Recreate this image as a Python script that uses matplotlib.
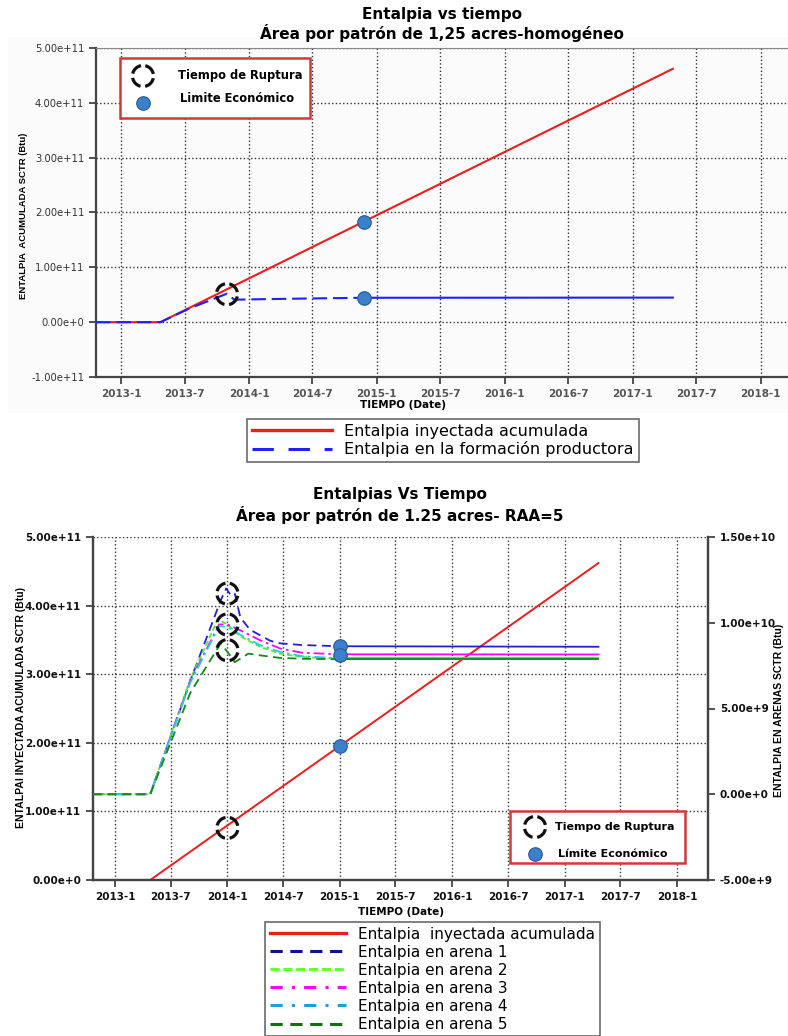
import matplotlib
matplotlib.use('Agg')
import matplotlib.pyplot as plt
import matplotlib.dates as mdates
from matplotlib.ticker import FuncFormatter, FixedLocator
from matplotlib.patches import Rectangle
from matplotlib.lines import Line2D
import pandas as pd

plt.rcParams['font.family'] = ['DejaVu Sans']
VFONT = ['Liberation Sans', 'DejaVu Sans']

# ---------------- data: top chart ----------------
top_title = ['Entalpia vs tiempo', 'Área por patrón de 1,25 acres-homogéneo']
top_ylabel = 'ENTALPIA  ACUMULADA SCTR (Btu)'
top_series_labels = ['Entalpia inyectada acumulada', 'Entalpia en la formación productora']
top_marker_labels = ['Tiempo de Ruptura', 'Limite Económico']

top_red_dates = ['2012-10-21', '2013-04-23', '2017-04-25']
top_red_vals = [0.0, 0.0, 4.62e11]
top_blue_dates = ['2012-10-21', '2013-04-23', '2013-07-15', '2013-10-30', '2013-11-20',
                  '2014-01-01', '2014-06-01', '2014-11-26']
top_blue_vals = [0.0, 0.0, 0.25e11, 0.52e11, 0.41e11, 0.415e11, 0.43e11, 0.445e11]
top_blue_tail_dates = ['2014-11-26', '2017-04-25']
top_blue_tail_vals = [0.445e11, 0.448e11]
top_break_dates = ['2013-10-30']
top_break_vals = [0.51e11]
top_limit_dates = ['2014-11-26', '2014-11-26']
top_limit_vals = [1.82e11, 0.445e11]
top_yticks = [-1e11, 0, 1e11, 2e11, 3e11, 4e11, 5e11]

# ---------------- data: bottom chart ----------------
bot_title = ['Entalpias Vs Tiempo', 'Área por patrón de 1.25 acres- RAA=5']
bot_ylabel_left = 'ENTALPAI INYECTADA ACUMULADA SCTR (Btu)'
bot_ylabel_right = 'ENTALPIA EN ARENAS SCTR (Btu)'
bot_series_labels = ['Entalpia  inyectada acumulada', 'Entalpia en arena 1', 'Entalpia en arena 2',
                     'Entalpia en arena 3', 'Entalpia en arena 4', 'Entalpia en arena 5']
bot_marker_labels = ['Tiempo de Ruptura', 'Límite Económico']

bot_red_dates = ['2012-10-21', '2013-04-25', '2017-04-21']
bot_red_vals = [0.0, 0.0, 4.62e11]

ar1_dates = ['2012-10-21', '2013-04-25', '2013-09-02', '2013-12-10', '2013-12-28', '2014-01-12',
             '2014-01-25', '2014-02-12', '2014-03-15', '2014-04-17', '2014-05-20', '2014-06-21',
             '2014-09-01', '2015-01-01']
ar1_vals = [0, 0, 6.6e9, 11.3e9, 12.0e9, 11.6e9, 11.7e9, 10.3e9, 9.6e9, 9.27e9, 8.95e9, 8.8e9,
            8.7e9, 8.63e9]
ar2_dates = ['2012-10-21', '2013-04-25', '2013-09-02', '2013-12-01', '2014-01-01', '2014-02-12',
             '2014-04-17', '2014-06-21', '2014-09-01', '2015-01-01']
ar2_vals = [0, 0, 6.7e9, 10.2e9, 9.9e9, 9.2e9, 8.6e9, 8.2e9, 8.0e9, 7.9e9]
ar3_dates = ['2012-10-21', '2013-04-25', '2013-09-02', '2013-12-05', '2014-01-01', '2014-02-12',
             '2014-04-17', '2014-06-21', '2014-09-01', '2015-01-01']
ar3_vals = [0, 0, 6.6e9, 9.9e9, 9.9e9, 9.56e9, 8.98e9, 8.5e9, 8.25e9, 8.16e9]
ar4_dates = ['2012-10-21', '2013-04-25', '2013-09-02', '2013-12-05', '2014-01-01', '2014-02-12',
             '2014-04-17', '2014-06-21', '2014-09-01', '2015-01-01']
ar4_vals = [0, 0, 6.5e9, 9.8e9, 9.75e9, 9.3e9, 8.7e9, 8.3e9, 8.05e9, 7.93e9]
ar5_dates = ['2012-10-21', '2013-04-25', '2013-09-02', '2013-12-10', '2014-01-01', '2014-01-25',
             '2014-03-10', '2014-04-17', '2014-06-21', '2014-09-01', '2015-01-01']
ar5_vals = [0, 0, 5.9e9, 8.8e9, 8.3e9, 7.7e9, 8.2e9, 8.1e9, 7.95e9, 7.9e9, 7.87e9]

tail_dates = ['2015-01-01', '2017-04-21']
ar1_tail = [8.63e9, 8.60e9]
ar2_tail = [7.90e9, 7.90e9]
ar3_tail = [8.16e9, 8.15e9]
ar4_tail = [7.93e9, 7.93e9]
ar5_tail = [7.87e9, 7.87e9]

bot_break_dates_right = ['2014-01-01', '2014-01-01', '2014-01-01']
bot_break_vals_right = [11.7e9, 9.9e9, 8.4e9]
bot_break_dates_left = ['2014-01-01']
bot_break_vals_left = [0.76e11]
bot_limit_dates_right = ['2015-01-01', '2015-01-01']
bot_limit_vals_right = [8.63e9, 8.1e9]
bot_limit_dates_left = ['2015-01-01']
bot_limit_vals_left = [1.95e11]

bot_yticks_left = [0, 1e11, 2e11, 3e11, 4e11, 5e11]
bot_yticks_right = [-5e9, 0, 5e9, 1e10, 1.5e10]

x_tick_dates = ['2013-01-01', '2013-07-01', '2014-01-01', '2014-07-01', '2015-01-01', '2015-07-01',
                '2016-01-01', '2016-07-01', '2017-01-01', '2017-07-01', '2018-01-01']
xlabel = 'TIEMPO (Date)'

# ---------------- helpers ----------------
D = pd.to_datetime


def sci_fmt(v, pos=None):
    s = f"{v:.2e}"
    mant, ex = s.split('e')
    e = int(ex)
    return f"{mant}e{'+' if e >= 0 else '-'}{abs(e)}"


def date_fmt(v, pos=None):
    d = mdates.num2date(v)
    return f"{d.year}-{d.month}"


RED = '#ee1c1c'
BREAK_KW = dict(s=230, facecolors='none', edgecolors='#111111', linewidths=2.3,
                linestyles=[(4.47, (3.8, 1.35))], zorder=8, clip_on=False)
BALL_KW = dict(s=95, color='#3b80c9', edgecolors='#23599a', linewidths=0.8, zorder=9, clip_on=False)
SPINE_C = '#444444'

fig = plt.figure(figsize=(7.88, 10.36), dpi=100)

# faint panel behind top chart
fig.patches.append(Rectangle((8 / 788, 1 - 413 / 1036), 780 / 788, 376 / 1036,
                             transform=fig.transFigure, facecolor='#fbfbfb', edgecolor='none',
                             zorder=-10))

# ================= TOP CHART =================
ax1 = fig.add_axes([96 / 788, 1 - 377 / 1036, 692 / 788, 329 / 1036])
ax1.set_facecolor('none')
ax1.set_xlim(D('2012-10-21'), D('2018-03-20'))
ax1.set_ylim(-1e11, 5e11)

ax1.plot(D(top_red_dates), top_red_vals, color=RED, lw=1.5, zorder=4)
ax1.plot(D(top_blue_dates), top_blue_vals, color='#2020ff', lw=1.5, ls=(0, (7, 2.8)), zorder=4)
ax1.plot(D(top_blue_tail_dates), top_blue_tail_vals, color='#2020ff', lw=1.5, zorder=4)
ax1.scatter(D(top_break_dates), top_break_vals, **BREAK_KW)
ax1.scatter(D(top_limit_dates), top_limit_vals, **BALL_KW)

ax1.xaxis.set_major_locator(FixedLocator(mdates.date2num(D(x_tick_dates))))
ax1.xaxis.set_major_formatter(FuncFormatter(date_fmt))
ax1.yaxis.set_major_locator(FixedLocator(top_yticks))
ax1.yaxis.set_major_formatter(FuncFormatter(sci_fmt))
ax1.grid(True, ls=':', color='#333333', lw=1.0)
ax1.tick_params(direction='out', length=5, width=1.3, color=SPINE_C)
for lab in ax1.get_xticklabels():
    lab.set_fontsize(7.5); lab.set_fontweight('bold'); lab.set_color('#555555')
for lab in ax1.get_yticklabels():
    lab.set_fontsize(7.2); lab.set_color('#333333')
ax1.spines['right'].set_visible(False)
ax1.spines['top'].set_color('#888888')
for sp in ['left', 'bottom']:
    ax1.spines[sp].set_color(SPINE_C); ax1.spines[sp].set_linewidth(1.6)

# inset marker legend (top)
ax1.add_patch(Rectangle((0.0347, 0.7872), 0.2746, 0.1824, transform=ax1.transAxes,
                        facecolor='white', edgecolor='#cf3a3a', lw=1.8, zorder=7))
ax1.scatter([0.0679], [0.9149], transform=ax1.transAxes, **BREAK_KW)
ax1.scatter([0.0679], [0.8328], transform=ax1.transAxes, **BALL_KW)
ax1.text(0.1185, 0.9149, top_marker_labels[0], transform=ax1.transAxes, fontsize=8.3,
         fontweight='bold', va='center', ha='left', zorder=9)
ax1.text(0.1215, 0.848, top_marker_labels[1], transform=ax1.transAxes, fontsize=8.3,
         fontweight='bold', va='center', ha='left', zorder=9)

fig.text(442 / 788, 1 - 15 / 1036, top_title[0], ha='center', va='center', fontsize=11,
         fontweight='bold')
fig.text(442 / 788, 1 - 33 / 1036, top_title[1], ha='center', va='center', fontsize=11,
         fontweight='bold')
fig.text(403 / 788, 1 - 405 / 1036, xlabel, ha='center', va='center', fontsize=7.5,
         fontweight='bold')
fig.text(24 / 788, 1 - 216 / 1036, top_ylabel, ha='center', va='center', rotation=90,
         fontsize=6.8, fontweight='bold', family=VFONT)

h_red = Line2D([], [], color=RED, lw=2.4)
h_blue = Line2D([], [], color='#2020ff', lw=2.2, ls=(0, (7, 4.8)))
leg1 = fig.legend([h_red, h_blue], top_series_labels, loc='upper left',
                  bbox_to_anchor=(247 / 788, 1 - 419 / 1036), fontsize=11.5, frameon=True,
                  fancybox=False, edgecolor='#444444', handlelength=5.0, borderpad=0.3,
                  labelspacing=0.15, handletextpad=0.8, borderaxespad=0)
leg1.get_frame().set_linewidth(1.2)

# ================= BOTTOM CHART =================
ax3 = fig.add_axes([93 / 788, 1 - 880 / 1036, 615 / 788, 343 / 1036])
ax3.set_xlim(D('2012-10-21'), D('2018-04-12'))
ax3.set_ylim(0, 5e11)
ax4 = ax3.twinx()
ax4.set_ylim(-5e9, 1.5e10)

ax3.plot(D(bot_red_dates), bot_red_vals, color=RED, lw=1.4, zorder=4)

styles = [
    ('#2222cc', (0, (5, 3))),
    ('#5ce63c', (0, (3, 1.6))),
    ('#ff00ff', (0, (6, 2.2, 1.4, 2.2))),
    ('#22cfe8', (0, (6, 2.2, 1.4, 2.2))),
    ('#138a13', (0, (5, 3))),
]
sand_data = [(ar1_dates, ar1_vals, ar1_tail), (ar2_dates, ar2_vals, ar2_tail),
             (ar3_dates, ar3_vals, ar3_tail), (ar4_dates, ar4_vals, ar4_tail),
             (ar5_dates, ar5_vals, ar5_tail)]
for (dts, vals, tail), (c, ls) in zip(sand_data, styles):
    ax4.plot(D(dts), vals, color=c, lw=1.3, ls=ls, zorder=4)
    ax4.plot(D(tail_dates), tail, color=c, lw=1.3, zorder=4)

ax4.scatter(D(bot_break_dates_right), bot_break_vals_right, **BREAK_KW)
ax3.scatter(D(bot_break_dates_left), bot_break_vals_left, **BREAK_KW)
ax4.scatter(D(bot_limit_dates_right), bot_limit_vals_right, **BALL_KW)
ax3.scatter(D(bot_limit_dates_left), bot_limit_vals_left, **BALL_KW)

ax3.xaxis.set_major_locator(FixedLocator(mdates.date2num(D(x_tick_dates))))
ax3.xaxis.set_major_formatter(FuncFormatter(date_fmt))
ax3.yaxis.set_major_locator(FixedLocator(bot_yticks_left))
ax3.yaxis.set_major_formatter(FuncFormatter(sci_fmt))
ax4.yaxis.set_major_locator(FixedLocator(bot_yticks_right))
ax4.yaxis.set_major_formatter(FuncFormatter(sci_fmt))
ax3.grid(True, ls=':', color='#333333', lw=1.0)
for a in (ax3, ax4):
    a.tick_params(direction='out', length=5, width=1.3, color=SPINE_C, labelsize=7.5)
    for lab in a.get_xticklabels() + a.get_yticklabels():
        lab.set_fontweight('bold'); lab.set_color('#111111')
    a.spines['top'].set_visible(False)
    for sp in ['left', 'bottom', 'right']:
        a.spines[sp].set_color(SPINE_C); a.spines[sp].set_linewidth(1.6)

# inset marker legend (bottom)
ax4.add_patch(Rectangle((0.678, 0.0496), 0.2846, 0.1516, transform=ax3.transAxes,
                        facecolor='white', edgecolor='#cf3a3a', lw=1.8, zorder=6))
ax4.scatter([0.7187], [0.1545], transform=ax3.transAxes, **BREAK_KW)
ax4.scatter([0.7187], [0.0758], transform=ax3.transAxes, **BALL_KW)
ax4.text(0.751, 0.1545, bot_marker_labels[0], transform=ax3.transAxes, fontsize=8,
         fontweight='bold', va='center', ha='left', zorder=9)
ax4.text(0.756, 0.0758, bot_marker_labels[1], transform=ax3.transAxes, fontsize=8,
         fontweight='bold', va='center', ha='left', zorder=9)

fig.text(400 / 788, 1 - 495 / 1036, bot_title[0], ha='center', va='center', fontsize=11,
         fontweight='bold')
fig.text(400 / 788, 1 - 515 / 1036, bot_title[1], ha='center', va='center', fontsize=11,
         fontweight='bold')
fig.text(401 / 788, 1 - 912 / 1036, xlabel, ha='center', va='center', fontsize=7.5,
         fontweight='bold')
fig.text(21 / 788, 1 - 708 / 1036, bot_ylabel_left, ha='center', va='center', rotation=90,
         fontsize=7.5, fontweight='bold', family=VFONT)
fig.text(779 / 788, 1 - 710 / 1036, bot_ylabel_right, ha='center', va='center', rotation=90,
         fontsize=7.5, fontweight='bold', family=VFONT)

handles2 = [Line2D([], [], color=RED, lw=2.4)]
leg_styles = [('#10109a', (0, (4, 2.5))), ('#66ff33', (0, (3, 1.2))),
              ('#ff00ff', (0, (4, 3, 1, 3))), ('#1ea0e0', (0, (4, 3, 1, 3))),
              ('#0e700e', (0, (4, 2.5)))]
for c, ls in leg_styles:
    handles2.append(Line2D([], [], color=c, lw=2.2, ls=ls))
leg2 = fig.legend(handles2, bot_series_labels, loc='upper left',
                  bbox_to_anchor=(265 / 788, 1 - 922 / 1036), fontsize=11, frameon=True,
                  fancybox=False, edgecolor='#444444', handlelength=5.0, borderpad=0.3,
                  labelspacing=0.2, handletextpad=0.8, borderaxespad=0)
leg2.get_frame().set_linewidth(1.2)

fig.savefig('out.png', dpi=100)
